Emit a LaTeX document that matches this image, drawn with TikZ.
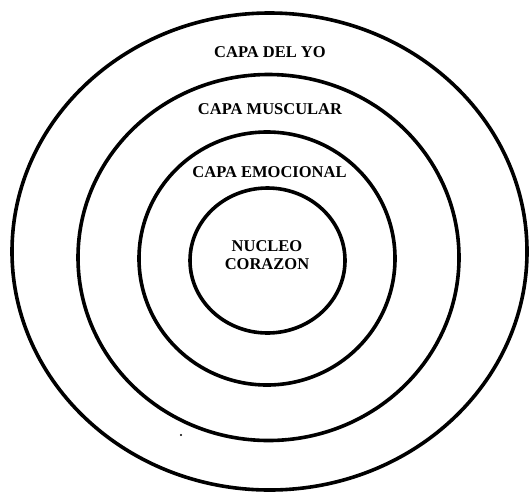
\documentclass[tikz,border=0pt]{standalone}
\usepackage{fontspec}
\setmainfont{Liberation Serif}
\usetikzlibrary{shapes.geometric}
\begin{document}
\begin{tikzpicture}[x=1pt,y=-1pt,
  ring/.style={draw=black, ellipse, line width=3.6pt, inner sep=0pt, outer sep=0pt},
  lbl/.style={font=\fontsize{16.5}{18}\selectfont\bfseries, anchor=base, inner sep=0pt}]
\useasboundingbox (0,0) rectangle (529,493);
\node[ring, minimum width=515pt, minimum height=477pt] (yo) at (269.5,251.5) {};
\node[ring, minimum width=381pt, minimum height=366pt] (muscular) at (268.5,257.5) {};
\node[ring, minimum width=256pt, minimum height=253pt] (emocional) at (267,258.5) {};
\node[ring, minimum width=155pt, minimum height=145pt] (nucleo) at (267.5,260.5) {};
\node[lbl] (tyo) at (270,57.5) {CAPA DEL YO};
\node[lbl] (tmus) at (270,114) {CAPA MUSCULAR};
\node[lbl] (temo) at (269.5,177) {CAPA EMOCIONAL};
\node[lbl] (tnuc) at (267,251) {NUCLEO};
\node[lbl] (tcor) at (267,269) {CORAZON};
\fill (181,435) circle (1.2pt);
\end{tikzpicture}
\end{document}
